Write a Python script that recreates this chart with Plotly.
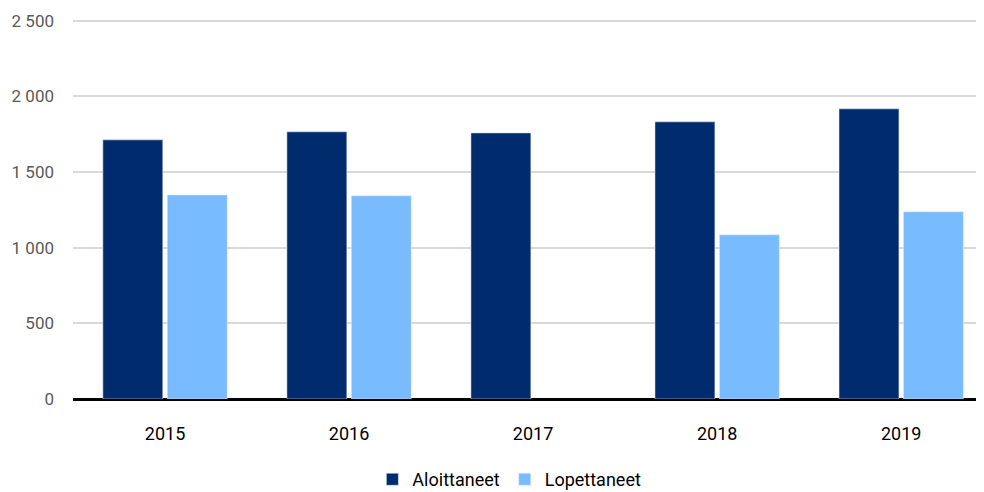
import plotly.graph_objects as go

years = ["2015", "2016", "2017", "2018", "2019"]
aloittaneet = [1713, 1766, 1759, 1832, 1918]
lopettaneet = [1349, 1343, None, 1085, 1237]
y_ticks = [0, 500, 1000, 1500, 2000, 2500]

FONT = "Roboto, Liberation Sans Narrow, sans-serif"

fig = go.Figure()
fig.add_trace(go.Bar(x=years, y=aloittaneet, name="Aloittaneet", marker_color="#002b6d"))
fig.add_trace(go.Bar(x=years, y=lopettaneet, name="Lopettaneet", marker_color="#78bcff"))

fig.update_layout(
    width=976, height=484,
    margin=dict(l=65, r=0, t=11, b=93, autoexpand=False),
    paper_bgcolor="white", plot_bgcolor="white",
    separators=", ",
    barmode="group", bargap=0.30, bargroupgap=0.07,
    font=dict(family=FONT, size=18, color="#000000"),
    showlegend=True,
    legend=dict(orientation="h", x=0.479, xanchor="center", y=-0.212, yanchor="middle",
                font=dict(size=18, color="#000000"), itemwidth=30, tracegroupgap=0),
    xaxis=dict(type="category", range=[-0.5, 4.45], showgrid=False, showline=False,
               ticks="", ticklabelstandoff=22, automargin=False,
               tickfont=dict(size=18, color="#000000")),
    yaxis=dict(range=[0, 2512], tickvals=y_ticks, tickformat=",d", showgrid=True,
               gridcolor="#d9d9d9", gridwidth=2, zeroline=True, zerolinecolor="#000000",
               zerolinewidth=3, showline=False, ticks="", ticklabelstandoff=18,
               automargin=False, tickfont=dict(size=17, color="#595959")),
)

fig.write_html("out.html")
